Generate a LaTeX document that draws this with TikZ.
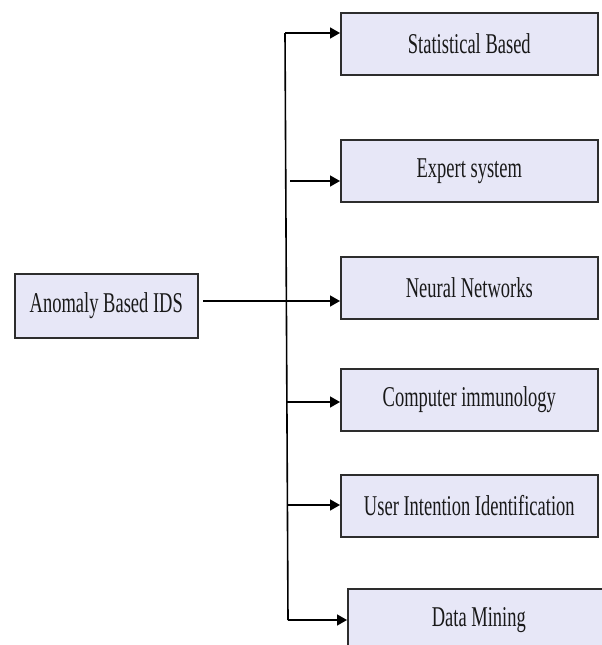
\documentclass[tikz,border=0pt]{standalone}
\usepackage{fontspec}
\setmainfont{Liberation Serif}
\usetikzlibrary{arrows.meta}
\definecolor{boxfill}{RGB}{231,231,247}
\definecolor{boxline}{RGB}{45,45,45}
\definecolor{ink}{RGB}{25,25,25}
\newcommand{\lbl}[1]{\scalebox{1}[1.55]{\fontsize{18.5}{20}\selectfont #1}}
\tikzset{
  box/.style={draw=boxline, fill=boxfill, line width=1.6pt, rectangle,
    inner sep=0pt, anchor=north west, text=ink},
  wide/.style={minimum width=257pt, minimum height=62pt},
  arr/.style={draw=black, line width=1.6pt,
    -{Triangle[length=10pt,width=11pt]}},
  trunk/.style={draw=black, line width=1.6pt}
}
\begin{document}
\begin{tikzpicture}[x=1pt,y=-1pt]
\useasboundingbox (0,0) rectangle (602,645);
\clip (0,0) rectangle (602,645);

% source node
\node[box, minimum width=183pt, minimum height=64pt] (ids) at (14,273) {\lbl{Anomaly Based IDS}};

% technique nodes
\node[box, wide] (stat) at (340,12)  {\lbl{Statistical Based}};
\node[box, wide] (exp)  at (340,139) {\lbl{Expert system}};
\node[box, wide] (nn)   at (340,256) {\lbl{Neural Networks}};
\node[box, wide] (ci)   at (340,368) {\lbl{Computer immunology}};
\node[box, wide] (uii)  at (340,474) {\lbl{User Intention Identification}};
\node[box, minimum width=262pt, minimum height=62pt] (dm) at (347,588) {\lbl{Data Mining}};

% branch points on the vertical trunk
\coordinate (t1) at (285,33);
\coordinate (t2) at (290,181);
\coordinate (s3) at (203,301);
\coordinate (t4) at (286,402);
\coordinate (t5) at (287,505);
\coordinate (t6) at (288,620);

\draw[trunk] (t1) -- (t6);
\draw[arr] (t1) -- (t1 -| stat.west);
\draw[arr] (t2) -- (t2 -| exp.west);
\draw[arr] (s3) -- (s3 -| nn.west);
\draw[arr] (t4) -- (t4 -| ci.west);
\draw[arr] (t5) -- (t5 -| uii.west);
\draw[arr] (t6) -- (t6 -| dm.west);
\end{tikzpicture}
\end{document}
